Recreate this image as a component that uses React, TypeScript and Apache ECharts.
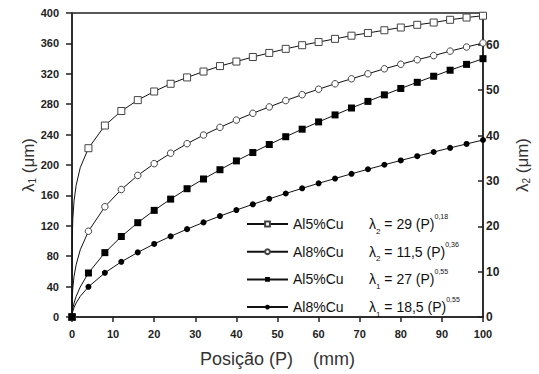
import { useEffect, useRef } from 'react';
import * as echarts from 'echarts';

const FONT = 'Arial, "Liberation Sans", Helvetica, sans-serif';

// Posição (mm) where markers are drawn
const positions = [0, 4, 8, 12, 16, 20, 24, 28, 32, 36, 40, 44, 48, 52, 56, 60, 64, 68, 72, 76, 80, 84, 88, 92, 96, 100];

// λ2 (μm) — right axis
const al5Lambda2 = [0, 37.2, 42.2, 45.4, 47.8, 49.7, 51.4, 52.8, 54.1, 55.3, 56.3, 57.3, 58.2, 59.1, 59.9, 60.6, 61.3, 62.0, 62.6, 63.2, 63.8, 64.4, 64.9, 65.5, 66.0, 66.4];
const al8Lambda2 = [0, 18.9, 24.3, 28.1, 31.2, 33.8, 36.1, 38.2, 40.1, 41.8, 43.4, 44.9, 46.3, 47.7, 49.0, 50.2, 51.4, 52.5, 53.6, 54.7, 55.7, 56.7, 57.6, 58.6, 59.5, 60.4];
// λ1 (μm) — left axis
const al5Lambda1 = [0, 57.9, 84.7, 105.9, 124.1, 140.3, 155.1, 168.8, 181.6, 193.8, 205.4, 216.4, 227.0, 237.2, 247.1, 256.7, 265.9, 275.0, 283.7, 292.3, 300.7, 308.8, 316.8, 324.7, 332.4, 339.9];
const al8Lambda1 = [0, 39.7, 58.1, 72.6, 85.0, 96.1, 106.2, 115.6, 124.5, 132.8, 140.7, 148.3, 155.5, 162.5, 169.3, 175.9, 182.2, 188.4, 194.4, 200.3, 206.0, 211.6, 217.1, 222.5, 227.7, 232.9];

// points of the drawn fit curves close to the origin (no markers)
const curvePositions = [0.05, 0.2, 0.5, 1, 2];
const al5Lambda2Curve = [16.9, 21.7, 25.6, 29.0, 32.9];
const al8Lambda2Curve = [3.9, 6.4, 9.0, 11.5, 14.8];
const al5Lambda1Curve = [5.2, 11.1, 18.4, 27.0, 39.5];
const al8Lambda1Curve = [3.6, 7.6, 12.6, 18.5, 27.1];

const seriesNames = ['A5L2', 'A8L2', 'A5L1', 'A8L1'];
const legendLabels: Record<string, string> = {
  A5L2: '{n|Al5%Cu}{l|λ}{sub|2}{l| = 29 (P)}{sup|0,18}',
  A8L2: '{n|Al8%Cu}{l|λ}{sub|2}{l| = 11,5 (P)}{sup|0,36}',
  A5L1: '{n|Al5%Cu}{l|λ}{sub|1}{l| = 27 (P)}{sup|0,55}',
  A8L1: '{n|Al8%Cu}{l|λ}{sub|1}{l| = 18,5 (P)}{sup|0,55}',
};

function buildData(values: number[], curve: number[]) {
  const pts: any[] = [{ value: [positions[0], values[0]] }];
  curvePositions.forEach((p, i) => pts.push({ value: [p, curve[i]], symbol: 'none' }));
  for (let i = 1; i < positions.length; i++) pts.push({ value: [positions[i], values[i]] });
  return pts;
}

export default function App() {
  const ref = useRef<HTMLDivElement>(null);
  useEffect(() => {
    if (!ref.current) return;
    const chart = echarts.init(ref.current, undefined, { renderer: 'svg' });
    const lineStyle = { color: '#111', width: 1 };
    const axisLine = { show: true, lineStyle: { color: '#222', width: 1.5 } };
    const labelStyle = { color: '#222', fontWeight: 'bold' as const, fontFamily: FONT };
    const titleRich = {
      l: { fontSize: 17, fontFamily: FONT, color: '#333' },
      s: { fontSize: 10, fontFamily: FONT, color: '#333', padding: [8, 0, 0, 0] },
    };
    chart.setOption({
      animation: false,
      grid: { left: 72, right: 52, top: 13, bottom: 57, show: true, borderColor: '#222', borderWidth: 1.5, backgroundColor: 'transparent' },
      legend: {
        orient: 'vertical',
        left: 241,
        top: 208,
        itemWidth: 41,
        itemHeight: 6,
        itemGap: 5.7,
        data: seriesNames,
        formatter: (name: string) => legendLabels[name],
        textStyle: {
          fontFamily: FONT,
          color: '#111',
          rich: {
            n: { fontSize: 14, width: 76, lineHeight: 22, fontFamily: FONT, color: '#111' },
            l: { fontSize: 14, lineHeight: 22, fontFamily: FONT, color: '#111' },
            sub: { fontSize: 8, lineHeight: 10, verticalAlign: 'bottom', fontFamily: FONT, color: '#111' },
            sup: { fontSize: 7, lineHeight: 8, verticalAlign: 'top', fontFamily: FONT, color: '#111' },
          },
        },
      },
      xAxis: {
        type: 'value',
        min: 0,
        max: 100,
        interval: 10,
        axisLine,
        axisTick: { show: true, inside: false, length: 5, lineStyle: { color: '#222', width: 1.5 } },
        axisLabel: { ...labelStyle, fontSize: 11, margin: 11 },
        splitLine: { show: false },
        name: 'Posição (P)    (mm)',
        nameLocation: 'middle',
        nameGap: 33,
        nameMoveOverlap: false,
        nameTextStyle: { fontSize: 18, color: '#333', fontFamily: FONT },
      },
      yAxis: [
        {
          type: 'value',
          min: 0,
          max: 400,
          interval: 40,
          position: 'left',
          axisLine,
          axisTick: { show: true, inside: false, length: 6, lineStyle: { color: '#222', width: 1.5 } },
          axisLabel: { ...labelStyle, fontSize: 11, margin: 13 },
          splitLine: { show: false },
          name: '{l|λ}{s|1}{l| (μm)}',
          nameLocation: 'middle',
          nameRotate: 90,
          nameGap: 35,
          nameMoveOverlap: false,
          nameTextStyle: { color: '#333', fontFamily: FONT, rich: titleRich },
        },
        {
          type: 'value',
          min: 0,
          max: 67,
          interval: 10,
          position: 'right',
          axisLine,
          axisTick: { show: true, inside: true, length: 5, lineStyle: { color: '#222', width: 1.5 } },
          axisLabel: {
            ...labelStyle,
            fontSize: 12,
            margin: 3,
            showMaxLabel: false,
            formatter: (v: number) => (v % 10 === 0 ? String(v) : ''),
          },
          splitLine: { show: false },
          name: '{l|λ}{s|2}{l| (μm)}',
          nameLocation: 'middle',
          nameRotate: 90,
          nameGap: 30,
          nameMoveOverlap: false,
          nameTextStyle: { color: '#333', fontFamily: FONT, rich: titleRich },
        },
      ],
      series: [
        {
          name: 'A5L2',
          type: 'line',
          yAxisIndex: 1,
          data: buildData(al5Lambda2, al5Lambda2Curve),
          symbol: 'rect',
          symbolSize: 7,
          itemStyle: { color: '#fff', borderColor: '#444', borderWidth: 1 },
          lineStyle,
          z: 2,
        },
        {
          name: 'A8L2',
          type: 'line',
          yAxisIndex: 1,
          data: buildData(al8Lambda2, al8Lambda2Curve),
          symbol: 'circle',
          symbolSize: 6.5,
          itemStyle: { color: '#fff', borderColor: '#444', borderWidth: 1 },
          lineStyle,
          z: 3,
        },
        {
          name: 'A5L1',
          type: 'line',
          yAxisIndex: 0,
          data: buildData(al5Lambda1, al5Lambda1Curve),
          symbol: 'rect',
          symbolSize: 7,
          itemStyle: { color: '#000', borderColor: '#000', borderWidth: 0 },
          lineStyle,
          z: 5,
        },
        {
          name: 'A8L1',
          type: 'line',
          yAxisIndex: 0,
          data: buildData(al8Lambda1, al8Lambda1Curve),
          symbol: 'circle',
          symbolSize: 6,
          itemStyle: { color: '#000', borderColor: '#000', borderWidth: 0 },
          lineStyle,
          z: 4,
        },
      ],
    });
    return () => chart.dispose();
  }, []);
  return <div ref={ref} style={{ position: 'fixed', left: 0, top: 0, width: 539, height: 374, background: '#fff' }} />;
}
